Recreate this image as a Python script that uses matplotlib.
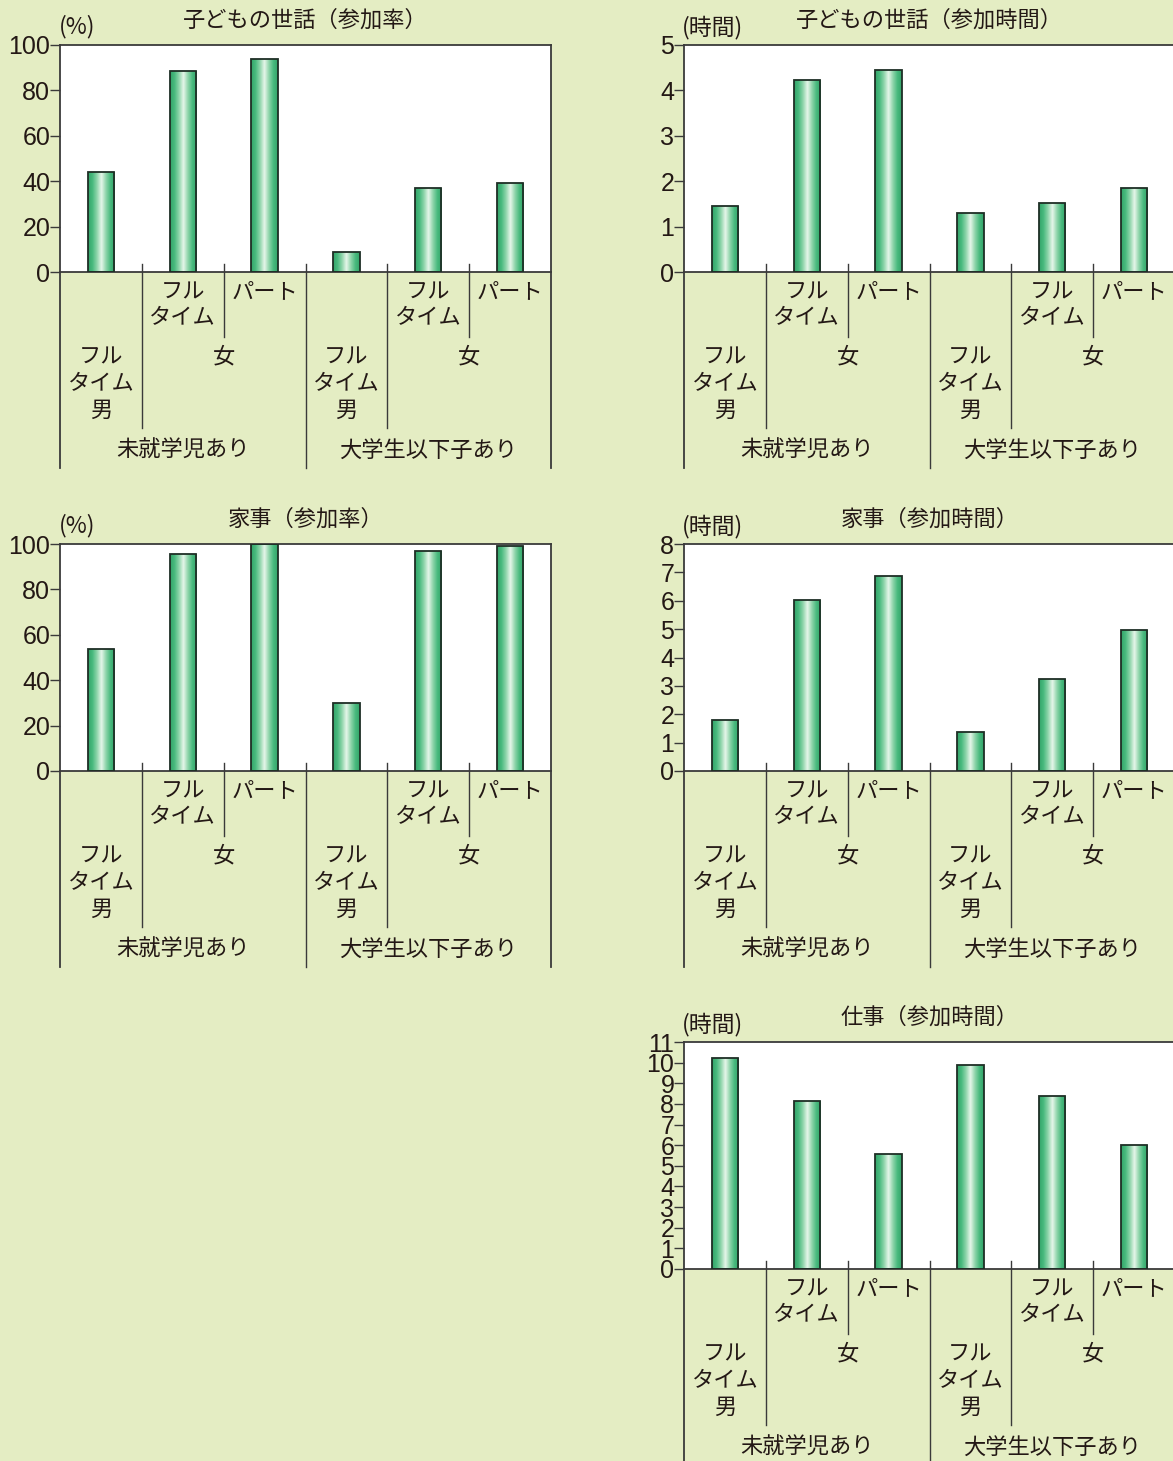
import numpy as np
import matplotlib
matplotlib.use("Agg")
import matplotlib.pyplot as plt
from matplotlib.colors import LinearSegmentedColormap

plt.rcParams['font.family'] = ['Noto Sans CJK JP', 'DejaVu Sans']

# ---- data -------------------------------------------------------------
group_labels = ["未就学児あり", "大学生以下子あり"]
male_label = ["フル", "タイム", "男"]
female_label = "女"
female_sub_labels = [["フル", "タイム"], ["パート"]]

childcare_rate = [44.0, 88.7, 93.7, 8.8, 37.1, 39.1]
childcare_hours = [1.45, 4.23, 4.44, 1.30, 1.52, 1.85]
housework_rate = [53.7, 95.8, 100.0, 30.0, 97.1, 98.9]
housework_hours = [1.80, 6.04, 6.86, 1.39, 3.24, 4.97]
work_hours = [10.22, 8.16, 5.56, 9.87, 8.40, 5.99]

ticks_rate = [0, 20, 40, 60, 80, 100]
ticks_childcare_h = [0, 1, 2, 3, 4, 5]
ticks_housework_h = [0, 1, 2, 3, 4, 5, 6, 7, 8]
ticks_work_h = list(range(0, 12))

titles = ["子どもの世話（参加率）", "子どもの世話（参加時間）",
          "家事（参加率）", "家事（参加時間）", "仕事（参加時間）"]
unit_rate = "(%)"
unit_hours = "(時間)"

# ---- style ------------------------------------------------------------
BG = "#E4EDC3"
INK = "#231815"
LINE = "#3a3a3a"
W, H = 1173, 1461
AX_W, AX_H = 491, 227
JP_SIZE = 16
NUM_SIZE = 18

bar_cmap = LinearSegmentedColormap.from_list(
    "bar", ["#33a468", "#48b97e", "#8fd5ab", "#e6f6ea", "#8fd5ab", "#48b97e", "#33a468"])

fig = plt.figure(figsize=(W / 100, H / 100), dpi=100, facecolor=BG)


def px_axes(left, top):
    return fig.add_axes([left / W, 1 - (top + AX_H) / H, AX_W / W, AX_H / H])


def draw_panel(left, top, values, ticks, title, unit, unit_x_px):
    ax = px_axes(left, top)
    ax.set_facecolor("white")
    n = len(values)
    x = np.arange(n)
    bars = ax.bar(x, values, width=0.32, facecolor="none",
                  edgecolor="#1e2e25", linewidth=1.3, zorder=3)
    grad = np.linspace(0, 1, 256).reshape(1, -1)
    for b in bars:
        x0, w, h = b.get_x(), b.get_width(), b.get_height()
        im = ax.imshow(grad, cmap=bar_cmap, aspect="auto", zorder=2,
                       extent=[x0, x0 + w, 0, h], interpolation="bilinear")
        im.set_clip_path(b)
    ax.set_xlim(-0.5, n - 0.5)
    ax.set_ylim(0, ticks[-1])
    ax.set_yticks(ticks)
    ax.set_yticklabels([str(t) for t in ticks], family="Liberation Sans",
                       fontsize=NUM_SIZE, color=INK)
    ax.set_xticks([])
    ax.tick_params(axis="y", direction="out", length=7, width=1.0,
                   color=LINE, pad=0)
    for s in ax.spines.values():
        s.set_color(LINE)
        s.set_linewidth(1.3)

    tr = ax.get_xaxis_transform()

    def fy(px):
        return -px / AX_H

    # separators below the axis
    seps = {0.5: 156, 1.5: 65, 2.5: 196, 3.5: 156, 4.5: 65}
    for xs, depth in seps.items():
        ax.plot([xs, xs], [8 / AX_H, fy(depth)], transform=tr, color=LINE,
                lw=1.0, clip_on=False, zorder=1)
    for xs in (-0.5, n - 0.5):
        ax.plot([xs, xs], [0, fy(196)], transform=tr, color=LINE,
                lw=1.3, clip_on=False, zorder=1)

    def put(xc, y_px, s):
        ax.text(xc, fy(y_px), s, transform=tr, ha="center", va="center",
                fontsize=JP_SIZE, color=INK)

    for g in range(2):
        base = g * 3
        # female sub categories
        for k, lines in enumerate(female_sub_labels):
            for i, line in enumerate(lines):
                put(base + 1 + k, 20 + 26 * i, line)
        # male label
        for i, line in enumerate(male_label):
            put(base, 85 + 26.5 * i, line)
        put(base + 1.5, 85, female_label)
        put(base + 1, 178, group_labels[g])

    ax.text(0.5, 1 + 25 / AX_H, title, transform=ax.transAxes, ha="center",
            va="center", fontsize=JP_SIZE, color=INK)
    ax.text((unit_x_px - left) / AX_W, 1 + 18 / AX_H, unit,
            transform=ax.transAxes, ha="center", va="center",
            fontsize=16.5, color=INK)
    return ax


draw_panel(60, 45, childcare_rate, ticks_rate, titles[0], unit_rate, 77)
draw_panel(684, 45, childcare_hours, ticks_childcare_h, titles[1], unit_hours, 712)
draw_panel(60, 544, housework_rate, ticks_rate, titles[2], unit_rate, 77)
draw_panel(684, 544, housework_hours, ticks_housework_h, titles[3], unit_hours, 712)
draw_panel(684, 1042, work_hours, ticks_work_h, titles[4], unit_hours, 712)

fig.savefig("out.png", dpi=100, facecolor=BG)
